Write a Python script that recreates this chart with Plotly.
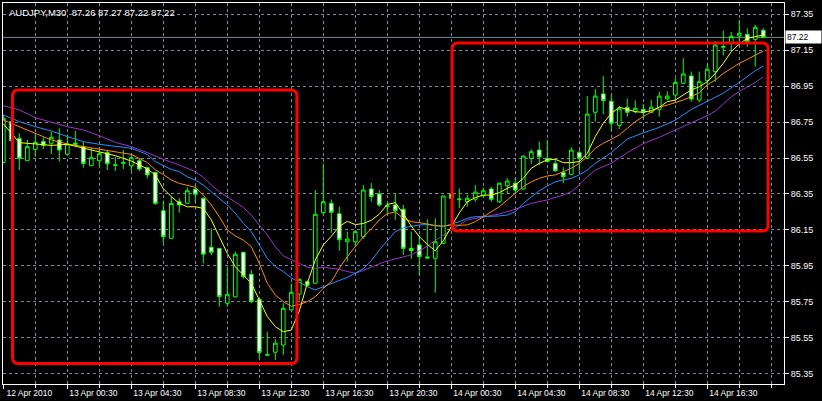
import plotly.graph_objects as go

# ---------------- data ----------------
bar_index = list(range(96))  # 30-minute bars, 12 Apr 20:30 .. 14 Apr 20:00

opens = [86.525, 86.752, 86.659, 86.535, 86.598, 86.641, 86.632, 86.650, 86.571, 86.625,
         86.613, 86.507, 86.535, 86.581, 86.512, 86.520, 86.507, 86.535, 86.496, 86.470,
         86.257, 86.104, 86.307, 86.298, 86.376, 86.326, 86.054, 86.048, 85.743, 85.779,
         86.026, 85.904, 85.765, 85.458, 85.471, 85.511, 85.706, 85.794, 85.863, 85.854,
         86.246, 86.298, 86.240, 86.085, 86.085, 86.113, 86.378, 86.350, 86.280, 86.289,
         86.265, 86.048, 86.067, 86.000, 85.993, 86.076, 86.350, 86.318, 86.307, 86.321,
         86.340, 86.378, 86.307, 86.396, 86.410, 86.378, 86.548, 86.594, 86.548, 86.520,
         86.470, 86.459, 86.581, 86.548, 86.804, 86.906, 86.865, 86.731, 86.830, 86.807,
         86.820, 86.804, 86.820, 86.879, 86.900, 86.965, 87.006, 86.872, 86.980, 87.030,
         87.165, 87.190, 87.228, 87.237, 87.209, 87.260]
highs = [86.790, 86.770, 86.687, 86.650, 86.687, 86.665, 86.696, 86.715, 86.680, 86.700,
         86.640, 86.607, 86.598, 86.590, 86.557, 86.594, 86.567, 86.545, 86.502, 86.475,
         86.313, 86.335, 86.326, 86.387, 86.400, 86.330, 86.159, 86.050, 85.946, 86.030,
         86.030, 85.928, 85.770, 85.585, 85.543, 85.743, 85.854, 85.882, 85.870, 86.372,
         86.520, 86.320, 86.279, 86.141, 86.150, 86.400, 86.410, 86.372, 86.300, 86.350,
         86.289, 86.141, 86.120, 86.210, 86.215, 86.340, 86.360, 86.380, 86.344, 86.400,
         86.385, 86.390, 86.415, 86.437, 86.437, 86.565, 86.598, 86.641, 86.650, 86.550,
         86.498, 86.609, 86.594, 86.894, 86.933, 87.006, 86.900, 86.840, 86.880, 86.870,
         86.850, 86.872, 86.918, 86.920, 86.993, 87.104, 87.030, 87.030, 87.076, 87.200,
         87.257, 87.250, 87.317, 87.270, 87.290, 87.270]
lows = [86.520, 86.640, 86.483, 86.535, 86.557, 86.600, 86.572, 86.530, 86.565, 86.615,
        86.496, 86.505, 86.502, 86.483, 86.478, 86.489, 86.478, 86.478, 86.437, 86.290,
        86.076, 86.100, 86.246, 86.295, 86.302, 85.965, 86.010, 85.724, 85.724, 85.775,
        85.880, 85.743, 85.437, 85.453, 85.428, 85.456, 85.700, 85.760, 85.835, 85.850,
        86.235, 86.135, 86.035, 85.975, 86.060, 86.100, 86.307, 86.279, 86.240, 86.206,
        86.011, 85.990, 85.900, 85.990, 85.802, 86.070, 86.320, 86.270, 86.280, 86.307,
        86.330, 86.307, 86.300, 86.350, 86.354, 86.375, 86.517, 86.511, 86.525, 86.475,
        86.410, 86.455, 86.479, 86.545, 86.752, 86.794, 86.700, 86.710, 86.779, 86.800,
        86.770, 86.800, 86.780, 86.870, 86.870, 86.960, 86.863, 86.860, 86.950, 86.974,
        87.120, 87.150, 87.168, 87.168, 87.057, 87.220]
closes = [86.770, 86.646, 86.548, 86.613, 86.637, 86.619, 86.665, 86.594, 86.628, 86.633,
          86.520, 86.552, 86.574, 86.518, 86.510, 86.525, 86.552, 86.489, 86.456, 86.298,
          86.113, 86.298, 86.289, 86.368, 86.348, 86.015, 86.026, 85.780, 85.793, 86.015,
          85.891, 85.752, 85.470, 85.455, 85.521, 85.715, 85.804, 85.876, 85.843, 86.237,
          86.307, 86.248, 86.096, 86.100, 86.141, 86.372, 86.335, 86.289, 86.285, 86.257,
          86.048, 86.035, 86.002, 85.995, 86.085, 86.339, 86.326, 86.322, 86.326, 86.360,
          86.368, 86.321, 86.410, 86.422, 86.372, 86.561, 86.585, 86.557, 86.530, 86.479,
          86.446, 86.594, 86.548, 86.794, 86.894, 86.869, 86.743, 86.823, 86.804, 86.826,
          86.802, 86.832, 86.894, 86.894, 86.970, 87.017, 86.878, 86.974, 87.043, 87.178,
          87.170, 87.225, 87.243, 87.196, 87.276, 87.220]

# moving-average lines, read at bar positions
yellow_k = [0, 2, 4, 6, 8, 10, 12, 14, 16, 18, 19, 20, 21, 22, 23, 24, 25, 26, 27, 28, 29, 30,
            31, 32, 33, 34, 35, 36, 37, 38, 39, 40, 41, 42, 43, 44, 45, 46, 47, 48, 49, 50, 51,
            52, 53, 54, 55, 56, 57, 58, 59, 60, 61, 62, 63, 64, 65, 66, 67, 68, 69, 70, 71, 72,
            73, 74, 75, 76, 77, 78, 79, 80, 81, 82, 83, 84, 85, 86, 87, 88, 89, 90, 91, 92, 93,
            94, 95]
yellow_v = [86.740, 86.635, 86.628, 86.620, 86.626, 86.604, 86.585, 86.563, 86.533, 86.490,
            86.455, 86.380, 86.335, 86.298, 86.279, 86.279, 86.270, 86.206, 86.113, 86.020,
            85.946, 85.900, 85.854, 85.761, 85.669, 85.613, 85.585, 85.594, 85.700, 85.854,
            85.983, 86.067, 86.115, 86.170, 86.198, 86.180, 86.186, 86.204, 86.238, 86.292,
            86.302, 86.240, 86.172, 86.113, 86.070, 86.034, 86.090, 86.168, 86.245, 86.307,
            86.330, 86.344, 86.344, 86.357, 86.382, 86.400, 86.437, 86.493, 86.520, 86.539,
            86.543, 86.524, 86.524, 86.530, 86.576, 86.669, 86.743, 86.798, 86.832, 86.820,
            86.807, 86.804, 86.813, 86.832, 86.863, 86.872, 86.900, 86.928, 86.946, 86.974,
            87.020, 87.076, 87.141, 87.183, 87.215, 87.224, 87.233]

orange_k = [0, 2, 4, 6, 8, 10, 12, 14, 16, 18, 19, 20, 21, 22, 23, 24, 25, 26, 27, 28, 29, 30,
            31, 32, 33, 34, 35, 36, 37, 38, 39, 40, 41, 42, 43, 44, 45, 46, 47, 48, 49, 50, 51,
            52, 53, 54, 55, 56, 57, 58, 59, 60, 61, 62, 63, 64, 65, 66, 67, 68, 69, 70, 71, 72,
            73, 74, 75, 76, 77, 78, 79, 80, 81, 82, 83, 84, 85, 86, 87, 88, 89, 90, 91, 92, 93,
            94, 95]
orange_v = [86.761, 86.724, 86.687, 86.650, 86.628, 86.613, 86.600, 86.585, 86.570, 86.525,
            86.485, 86.458, 86.428, 86.409, 86.400, 86.387, 86.344, 86.289, 86.224, 86.150,
            86.117, 86.094, 86.057, 85.965, 85.854, 85.789, 85.752, 85.726, 85.736, 85.752,
            85.779, 85.826, 85.863, 85.937, 86.002, 86.057, 86.113, 86.155, 86.206, 86.241,
            86.250, 86.215, 86.196, 86.191, 86.183, 86.175, 86.172, 86.178, 86.176, 86.178,
            86.196, 86.225, 86.252, 86.279, 86.317, 86.354, 86.391, 86.418, 86.437, 86.450,
            86.456, 86.474, 86.493, 86.520, 86.557, 86.604, 86.632, 86.654, 86.678, 86.715,
            86.752, 86.780, 86.807, 86.832, 86.844, 86.857, 86.872, 86.891, 86.913, 86.956,
            86.983, 87.020, 87.048, 87.076, 87.098, 87.122, 87.144]

blue_k = [0, 2, 4, 6, 8, 10, 12, 14, 16, 18, 19, 20, 21, 22, 23, 24, 25, 26, 27, 28, 29, 30,
          31, 32, 33, 34, 35, 36, 37, 38, 39, 40, 41, 42, 43, 44, 45, 46, 47, 48, 49, 50, 51,
          52, 53, 54, 55, 56, 57, 58, 59, 60, 61, 62, 63, 64, 65, 66, 67, 68, 69, 70, 71, 72,
          73, 74, 75, 76, 78, 80, 82, 84, 86, 88, 90, 92, 94, 95]
blue_v = [86.789, 86.752, 86.724, 86.700, 86.669, 86.641, 86.626, 86.613, 86.604, 86.570,
          86.530, 86.508, 86.487, 86.474, 86.446, 86.428, 86.400, 86.363, 86.326, 86.289,
          86.243, 86.187, 86.141, 86.067, 85.993, 85.946, 85.919, 85.884, 85.860, 85.835,
          85.817, 85.835, 85.854, 85.872, 85.887, 85.910, 85.935, 85.980, 86.039, 86.090,
          86.141, 86.162, 86.172, 86.178, 86.180, 86.172, 86.168, 86.183, 86.196, 86.215,
          86.224, 86.224, 86.224, 86.228, 86.233, 86.252, 86.298, 86.335, 86.368, 86.394,
          86.418, 86.428, 86.437, 86.456, 86.483, 86.520, 86.548, 86.580, 86.655, 86.690,
          86.720, 86.760, 86.820, 86.865, 86.910, 86.970, 87.035, 87.061]

purple_k = [0, 2, 4, 6, 8, 10, 12, 14, 16, 18, 20, 22, 24, 25, 26, 27, 28, 29, 30, 31, 32, 33,
            34, 35, 36, 37, 38, 39, 40, 41, 42, 43, 44, 45, 46, 47, 48, 49, 50, 51, 52, 53, 54,
            55, 56, 57, 58, 59, 60, 62, 64, 66, 68, 70, 71, 72, 73, 74, 75, 76, 78, 80, 82, 84,
            86, 88, 89, 90, 91, 92, 93, 94, 95]
purple_v = [86.841, 86.817, 86.774, 86.748, 86.724, 86.706, 86.674, 86.637, 86.613, 86.580,
            86.543, 86.511, 86.474, 86.443, 86.400, 86.363, 86.335, 86.307, 86.276, 86.233,
            86.178, 86.122, 86.057, 86.006, 85.985, 85.963, 85.943, 85.937, 85.943, 85.937,
            85.932, 85.919, 85.910, 85.925, 85.945, 85.962, 85.978, 85.990, 86.000, 86.012,
            86.035, 86.060, 86.092, 86.122, 86.150, 86.178, 86.206, 86.215, 86.222, 86.239,
            86.265, 86.298, 86.317, 86.344, 86.363, 86.400, 86.446, 86.483, 86.502, 86.520,
            86.580, 86.630, 86.665, 86.705, 86.742, 86.785, 86.810, 86.850, 86.890, 86.920,
            86.945, 86.970, 87.000]

time_tick_bars = [0, 8, 16, 24, 32, 40, 48, 56, 64, 72, 80, 88]
time_tick_labels = ["12 Apr 2010", "13 Apr 00:30", "13 Apr 04:30", "13 Apr 08:30",
                    "13 Apr 12:30", "13 Apr 16:30", "13 Apr 20:30", "14 Apr 00:30",
                    "14 Apr 04:30", "14 Apr 08:30", "14 Apr 12:30", "14 Apr 16:30"]
price_ticks = [85.35, 85.55, 85.75, 85.95, 86.15, 86.35, 86.55, 86.75, 86.95, 87.15, 87.35]
price_tick_labels = ["85.35", "85.55", "85.75", "85.95", "86.15", "86.35", "86.55",
                     "86.75", "86.95", "87.15", "87.35"]

symbol = "AUDJPY,M30"
last_bar_ohlc = ["87.26", "87.27", "87.22", "87.22"]
last_price = 87.22

# highlighted zones (bar index / price)
zones = [
    {"x0": 1.15, "x1": 36.7, "y0": 85.408, "y1": 86.928},
    {"x0": 56.1, "x1": 95.6, "y0": 86.144, "y1": 87.189},
]

# ---------------- styles ----------------
GRID = "#778899"
FONT = "Liberation Sans, Arial, sans-serif"

fig = go.Figure()

fig.add_trace(go.Candlestick(
    x=bar_index, open=opens, high=highs, low=lows, close=closes,
    increasing=dict(line=dict(color="#00FF00", width=1), fillcolor="#000000"),
    decreasing=dict(line=dict(color="#00FF00", width=1), fillcolor="#FFFFFF"),
    whiskerwidth=0, showlegend=False, hoverinfo="skip",
))

for ks, vs, col in [(purple_k, purple_v, "#9932CC"),
                    (blue_k, blue_v, "#1E90FF"),
                    (orange_k, orange_v, "#FF8C00"),
                    (yellow_k, yellow_v, "#FFFF00")]:
    fig.add_trace(go.Scatter(x=ks, y=vs, mode="lines",
                             line=dict(color=col, width=1),
                             showlegend=False, hoverinfo="skip"))

shapes = [dict(type="line", xref="paper", yref="y", x0=0, x1=1,
               y0=last_price, y1=last_price, line=dict(color=GRID, width=1),
               layer="below")]
rx, ry = 0.75, 0.034
for z in zones:
    x0, x1, y0, y1 = z["x0"], z["x1"], z["y0"], z["y1"]
    path = (f"M {x0+rx},{y1} L {x1-rx},{y1} Q {x1},{y1} {x1},{y1-ry} "
            f"L {x1},{y0+ry} Q {x1},{y0} {x1-rx},{y0} L {x0+rx},{y0} "
            f"Q {x0},{y0} {x0},{y0+ry} L {x0},{y1-ry} Q {x0},{y1} {x0+rx},{y1} Z")
    shapes.append(dict(type="path", xref="x", yref="y", path=path,
                       line=dict(color="#FF0000", width=3), layer="above"))

annotations = [
    dict(xref="paper", yref="paper", x=0, y=1, xanchor="left", yanchor="top",
         xshift=4, yshift=-2, showarrow=False,
         text=symbol + "\u00a0 " + " ".join(last_bar_ohlc),
         font=dict(family=FONT, size=9.5, color="white")),
    dict(xref="paper", yref="y", x=1, y=last_price, xanchor="left", yanchor="middle",
         xshift=1, showarrow=False, text=f"{last_price:.2f}",
         bgcolor="white", borderpad=1, width=33, align="left",
         font=dict(family=FONT, size=8.5, color="black")),
]

fig.update_layout(
    width=822, height=401,
    margin=dict(l=3, r=38, t=3, b=17),
    paper_bgcolor="black", plot_bgcolor="black",
    boxgap=0.35,
    showlegend=False,
    shapes=shapes, annotations=annotations,
    xaxis=dict(
        range=[-0.04, 97.59], rangeslider=dict(visible=False),
        tickmode="array", tickvals=time_tick_bars, ticktext=time_tick_labels,
        ticks="outside", ticklen=4, tickcolor="white", tickwidth=1,
        ticklabelshift=26, ticklabelstandoff=-3, automargin=False,
        tickfont=dict(family=FONT, size=8.5, color="white"),
        showgrid=True, gridcolor=GRID, griddash="3px,3px", gridwidth=1,
        minor=dict(tick0=0, dtick=4, ticks="outside", ticklen=3, tickcolor="white",
                   showgrid=True, gridcolor=GRID, griddash="3px,3px", gridwidth=1),
        showline=True, linecolor="white", linewidth=1, mirror=True,
        zeroline=False, fixedrange=True,
    ),
    yaxis=dict(
        range=[85.2944, 87.4111], side="right",
        tickmode="array", tickvals=price_ticks, ticktext=price_tick_labels,
        ticks="outside", ticklen=4, tickcolor="white", automargin=False,
        tickfont=dict(family=FONT, size=9, color="white"),
        showgrid=True, gridcolor=GRID, griddash="3px,3px", gridwidth=1,
        showline=True, linecolor="white", linewidth=1, mirror=True,
        zeroline=False, fixedrange=True,
    ),
)

fig.write_html(
    "out.html",
    config={"displayModeBar": False, "staticPlot": True},
    post_script="document.body.style.margin='0';document.body.style.overflow='hidden';",
)
